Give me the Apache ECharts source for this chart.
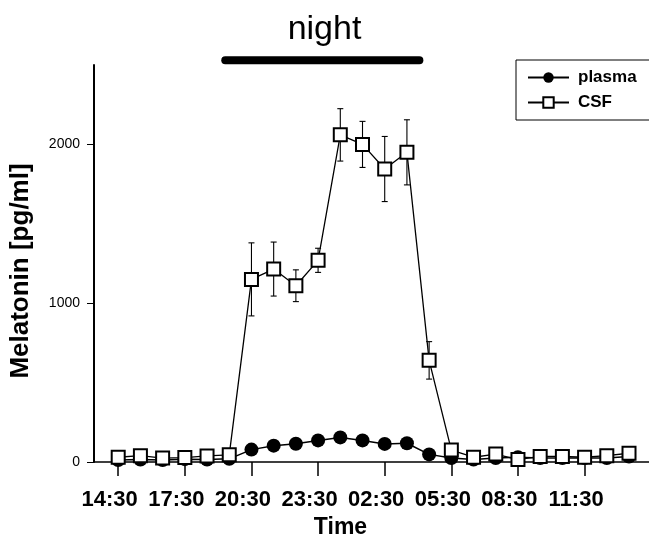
<!DOCTYPE html>
<html>
<head>
<meta charset="utf-8">
<script src="https://cdn.jsdelivr.net/npm/echarts@6/dist/echarts.min.js"></script>
<style>html,body{margin:0;padding:0;background:#fff;}#c{width:649px;height:541px;}</style>
</head>
<body>
<div id="c"></div>
<script>
// Sampling times (hourly, starting 14:30)
const times = ['14:30','15:30','16:30','17:30','18:30','19:30','20:30','21:30','22:30','23:30','00:30','01:30','02:30','03:30','04:30','05:30','06:30','07:30','08:30','09:30','10:30','11:30','12:30','13:30'];
// Melatonin, pg/ml
const plasma = [12, 15, 12, 18, 15, 20, 78, 103, 115, 136, 155, 136, 114, 118, 48, 25, 15, 25, 30, 25, 25, 25, 25, 35];
const csf    = [30, 40, 25, 28, 38, 45, 1150, 1215, 1110, 1270, 2060, 2000, 1845, 1950, 640, 75, 30, 50, 15, 35, 35, 30, 40, 55];
const csfErr = [0, 0, 0, 0, 0, 0, 230, 170, 100, 76, 165, 145, 205, 205, 118, 0, 0, 0, 0, 0, 0, 0, 0, 0];
// x tick positions (hours after 14:30) and labels
const xTickHours = [0, 3, 6, 9, 12, 15, 18, 21];
const xTickLabels = ['14:30','17:30','20:30','23:30','02:30','05:30','08:30','11:30'];
const yTicks = [0, 1000, 2000];
// night period (hours after 14:30) drawn above the plot
const nightSpan = [4.82, 13.56];
const nightLevel = 2530;

const FONT = 'Liberation Sans, Arial, sans-serif';
const chart = echarts.init(document.getElementById('c'), null, {renderer: 'canvas'});

const plasmaData = plasma.map((v, i) => [i, v]);
const csfData = csf.map((v, i) => [i, v]);
const errData = csf.map((v, i) => [i, v, csfErr[i]]).filter(d => d[2] > 0);

chart.setOption({
  backgroundColor: '#fff',
  animation: false,
  title: {
    text: 'night', left: 'center', top: 8,
    textStyle: {fontFamily: FONT, fontSize: 34, fontWeight: 'normal', color: '#000'}
  },
  legend: {
    data: ['plasma', 'CSF'],
    orient: 'vertical', left: 516, top: 60,
    borderColor: '#000', borderWidth: 1,
    padding: [9, 40, 9, 11],
    itemWidth: 41, itemHeight: 13, itemGap: 8,
    textStyle: {fontFamily: FONT, fontSize: 17, fontWeight: 'bold', color: '#000', padding: [0, 0, 0, 4]}
  },
  grid: {left: 94, right: 0, top: 65, bottom: 79, containLabel: false, outerBoundsMode: 'none'},
  xAxis: {
    type: 'value', min: -1.09, max: 23.9,
    name: 'Time', nameLocation: 'middle', nameGap: 48,
    nameTextStyle: {fontFamily: FONT, fontSize: 23, fontWeight: 'bold', color: '#000', padding: [0, 62, 0, 0]},
    axisLine: {show: true, onZero: false, lineStyle: {color: '#000', width: 1.6}},
    axisTick: {show: true, length: 14, inside: false, customValues: xTickHours, lineStyle: {color: '#000', width: 1.5}},
    axisLabel: {
      customValues: xTickHours, margin: 27,
      fontFamily: FONT, fontSize: 22, fontWeight: 'bold', color: '#000', padding: [0, 17, 0, 0],
      formatter: v => xTickLabels[xTickHours.indexOf(Math.round(v))] || ''
    },
    splitLine: {show: false}
  },
  yAxis: {
    type: 'value', min: 0, max: 2500,
    name: 'Melatonin [pg/ml]', nameLocation: 'middle', nameGap: 60, nameRotate: 90,
    nameTextStyle: {fontFamily: FONT, fontSize: 26, fontWeight: 'bold', color: '#000', padding: [0, 15, 0, 0]},
    axisLine: {show: true, onZero: false, lineStyle: {color: '#000', width: 2}},
    axisTick: {show: true, length: 7, customValues: yTicks, lineStyle: {color: '#000', width: 1}},
    axisLabel: {customValues: yTicks, margin: 14, fontFamily: FONT, fontSize: 14, color: '#000', formatter: v => String(v)},
    splitLine: {show: false}
  },
  series: [
    {
      name: 'night', type: 'line', data: nightSpan.map(h => [h, nightLevel]),
      symbol: 'none', clip: false, silent: true,
      lineStyle: {color: '#000', width: 8, cap: 'round'}, z: 1
    },
    {
      name: 'plasma', type: 'line', data: plasmaData,
      symbol: 'circle', symbolSize: 14,
      itemStyle: {color: '#000'},
      lineStyle: {color: '#000', width: 1.5}, z: 2
    },
    {
      name: 'errbars', type: 'custom', data: errData,
      encode: {x: 0, y: 1}, z: 3, silent: true,
      renderItem: function (params, api) {
        const x = api.value(0), v = api.value(1), e = api.value(2);
        const t = api.coord([x, v + e]);
        const b = api.coord([x, v - e]);
        const w = 3;
        const st = {stroke: '#000', lineWidth: 1.1};
        return {type: 'group', children: [
          {type: 'line', shape: {x1: t[0], y1: t[1], x2: b[0], y2: b[1]}, style: st},
          {type: 'line', shape: {x1: t[0] - w, y1: t[1], x2: t[0] + w, y2: t[1]}, style: st},
          {type: 'line', shape: {x1: b[0] - w, y1: b[1], x2: b[0] + w, y2: b[1]}, style: st}
        ]};
      }
    },
    {
      name: 'CSF', type: 'line', data: csfData,
      symbol: 'rect', symbolSize: 13,
      itemStyle: {color: '#fff', borderColor: '#000', borderWidth: 2},
      lineStyle: {color: '#000', width: 1.3}, z: 4
    }
  ]
});
</script>
</body>
</html>
